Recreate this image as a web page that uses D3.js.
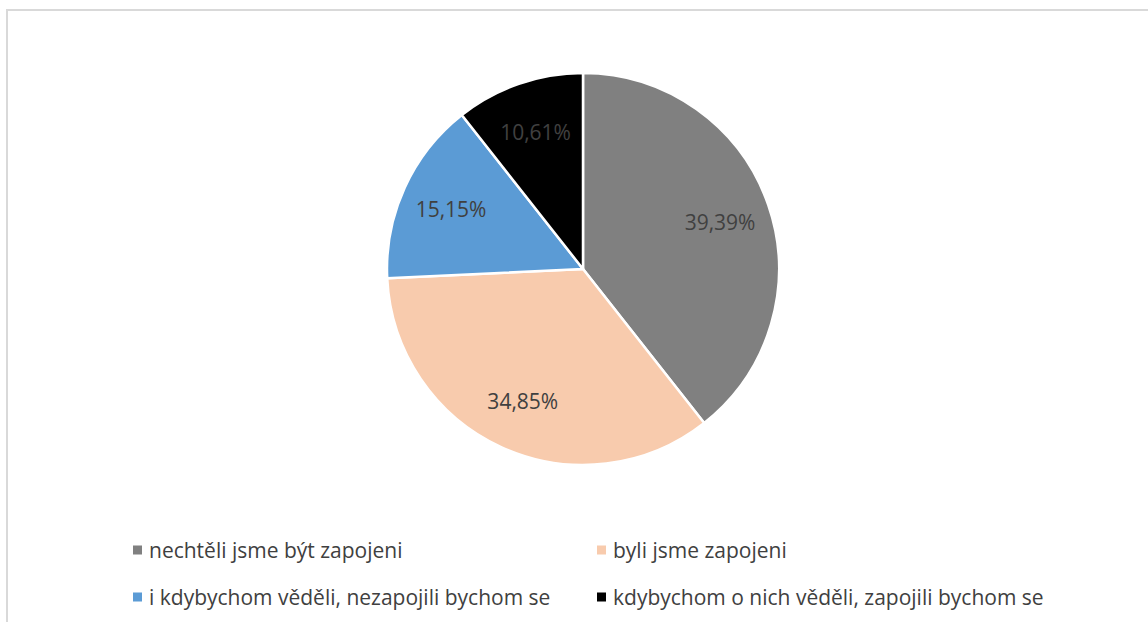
<!DOCTYPE html>
<html>
<head>
<meta charset="utf-8">
<script src="https://cdn.jsdelivr.net/npm/d3@7"></script>
<style>
  html, body { margin: 0; padding: 0; background: #fff; }
  svg { display: block; }
</style>
</head>
<body>
<svg id="chart" width="1148" height="622"></svg>
<script>
// Answer categories and their shares (percent)
const categories = [
  "nechtěli jsme být zapojeni",
  "byli jsme zapojeni",
  "i kdybychom věděli, nezapojili bychom se",
  "kdybychom o nich věděli, zapojili bychom se"
];
const shares = [39.39, 34.85, 15.15, 10.61];
const colors = ["#808080", "#F8CBAD", "#5B9BD5", "#000000"];

const W = 1148, H = 622;
const svg = d3.select("#chart");
const font = "'Open Sans', 'Noto Sans', sans-serif";

// chart area frame
svg.append("rect")
  .attr("x", 7).attr("y", 10)
  .attr("width", W + 20).attr("height", H + 20)
  .attr("fill", "#fff")
  .attr("stroke", "#d9d9d9").attr("stroke-width", 2);

const cx = 583, cy = 269, R = 196;
const data = categories.map((c, i) => ({ cat: c, value: shares[i], color: colors[i] }));

const pie = d3.pie().value(d => d.value).sort(null);
const arcs = pie(data);
const arc = d3.arc().innerRadius(0).outerRadius(R);
const labelArc = d3.arc().innerRadius(R * 0.74).outerRadius(R * 0.74);

const g = svg.append("g").attr("transform", `translate(${cx},${cy})`);

g.selectAll("path.slice")
  .data(arcs)
  .join("path")
  .attr("class", "slice")
  .attr("d", arc)
  .attr("fill", d => d.data.color)
  .attr("stroke", "#fff")
  .attr("stroke-width", 2.5)
  .attr("stroke-linejoin", "round");

const fmt = v => v.toFixed(2).replace(".", ",") + "%";

g.selectAll("text.val")
  .data(arcs)
  .join("text")
  .attr("class", "val")
  .attr("transform", d => `translate(${labelArc.centroid(d)})`)
  .attr("text-anchor", "middle")
  .attr("dominant-baseline", "central")
  .attr("font-family", font)
  .attr("font-size", 21)
  .attr("fill", "#404040")
  .text(d => fmt(d.data.value));

// legend: two columns, two rows
const legX = d3.scaleOrdinal().domain([0, 1]).range([133, 597]);
const legY = d3.scaleOrdinal().domain([0, 1]).range([550, 597]);

const leg = svg.selectAll("g.leg")
  .data(data)
  .join("g")
  .attr("class", "leg")
  .attr("transform", (d, i) => `translate(${legX(i % 2)},${legY(Math.floor(i / 2))})`);

leg.append("rect")
  .attr("x", 0).attr("y", -4.5)
  .attr("width", 9).attr("height", 9)
  .attr("fill", d => d.color);

leg.append("text")
  .attr("x", 16)
  .attr("y", 0)
  .attr("dominant-baseline", "central")
  .attr("font-family", font)
  .attr("font-size", 21)
  .attr("fill", "#404040")
  .text(d => d.cat);
</script>
</body>
</html>
